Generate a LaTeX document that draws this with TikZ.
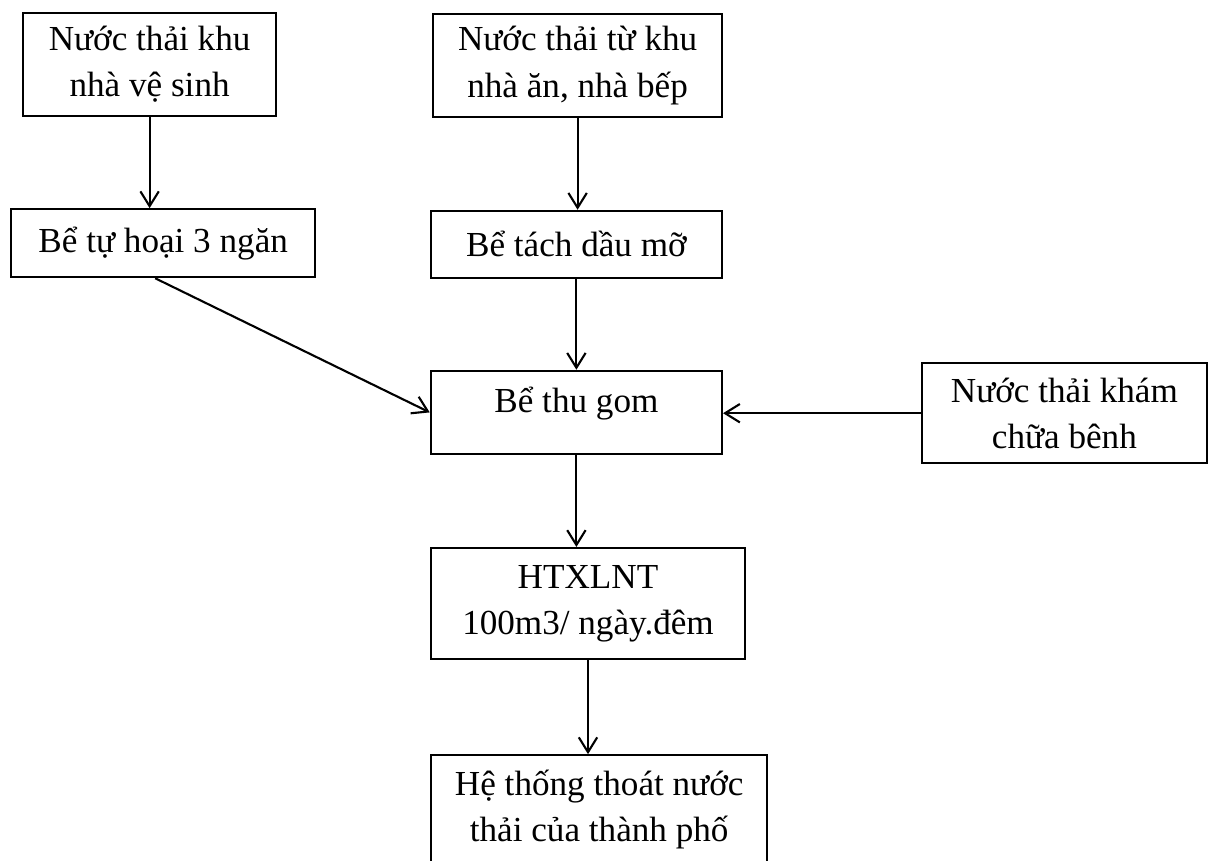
\documentclass[tikz,border=0pt]{standalone}
\usepackage{fontspec}
\setmainfont{Liberation Serif}
\usetikzlibrary{arrows.meta,positioning,calc}

\begin{document}
\begin{tikzpicture}[every node/.style={font=\fontsize{25}{33}\selectfont},
  box/.style={draw, line width=1.5pt, align=center, inner sep=2pt},
  flow/.style={line width=1.5pt, -{Straight Barb[length=3.7mm,width=4.6mm,line width=1.5pt]}}]
\useasboundingbox (0,0) rectangle (30.2,-21.5);
\node[box, minimum width=6.33cm, minimum height=2.58cm] (wc)    at (3.74,-1.61)   {Nước thải khu\\nhà vệ sinh};
\node[box, minimum width=7.23cm, minimum height=2.58cm] (bep)   at (14.44,-1.64)  {Nước thải từ khu\\nhà ăn, nhà bếp};
\node[box, minimum width=7.6cm,  minimum height=1.7cm]  (tuhoai) at (4.08,-6.08)  {Bể tự hoại 3 ngăn};
\node[box, minimum width=7.28cm, minimum height=1.68cm] (daumo) at (14.41,-6.11)  {Bể tách dầu mỡ};
\node[box, minimum width=7.28cm, minimum height=2.08cm, text height=0.62cm, text depth=0.62cm] (thugom) at (14.41,-10.31) {Bể thu gom};
\node[box, minimum width=7.13cm, minimum height=2.5cm]  (kham)  at (26.61,-10.33) {Nước thải khám\\chữa bênh};
\node[box, minimum width=7.85cm, minimum height=2.78cm] (htxl)  at (14.7,-15.09)  {HTXLNT\\100m3/ ngày.đêm};
\node[box, minimum width=8.4cm,  minimum height=2.7cm]  (thoat) at (14.98,-20.23) {Hệ thống thoát nước\\thải của thành phố};
% connectors
\draw[flow] (wc.south) -- (wc.south |- tuhoai.north);
\draw[flow] (bep.south) -- (bep.south |- daumo.north);
\draw[flow] ([xshift=-2mm]tuhoai.south) -- (thugom.west);
\draw[flow] (daumo.south) -- (thugom.north);
\draw[flow] (kham.west) -- (kham.west -| thugom.east);
\draw[flow] (thugom.south) -- (thugom.south |- htxl.north);
\draw[flow] (htxl.south) -- (htxl.south |- thoat.north);
\end{tikzpicture}
\end{document}
